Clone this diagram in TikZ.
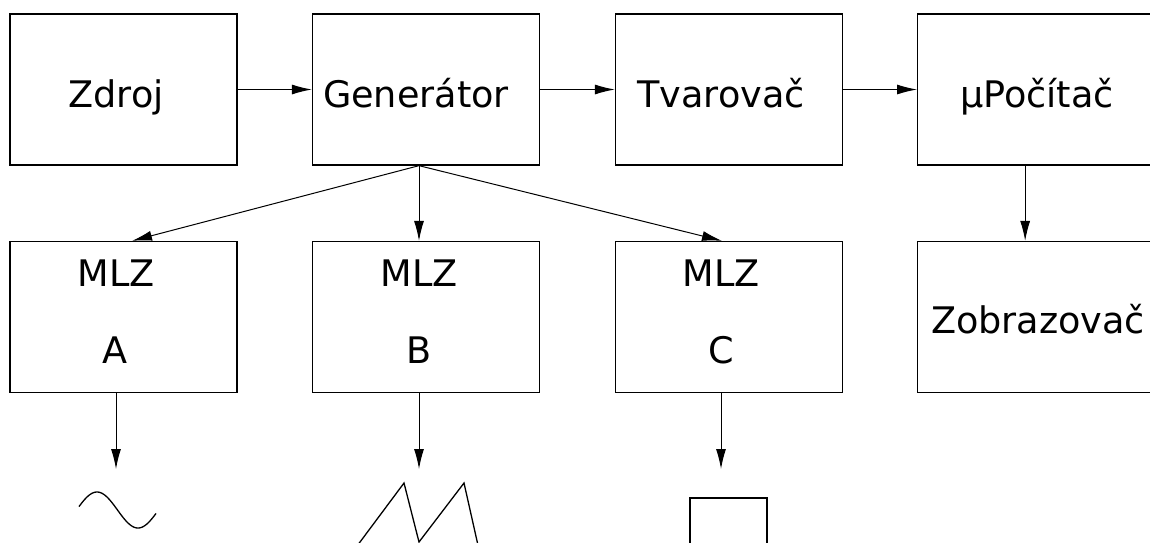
\documentclass[tikz,border=0pt]{standalone}
\usepackage{fontspec}
\setmainfont{DejaVu Sans}
\usetikzlibrary{arrows.meta}
\tikzset{
  blk/.style={draw, line width=1.3pt, minimum width=227pt, minimum height=151pt, inner sep=0pt},
  lbl/.style={anchor=base, inner sep=0pt, font=\fontsize{36.6}{44}\selectfont},
  arr/.style={line width=1pt, -{Latex[length=20pt,width=10pt]}},
  wave/.style={line width=1.3pt}
}
\begin{document}
\begin{tikzpicture}[x=1pt,y=-1pt]
\useasboundingbox (0,0) rectangle (1150,542);
\clip (0,0) rectangle (1150,542);
% boxes
\node[blk] (zdroj) at (123.5,89.5) {};
\node[blk] (gen) at (426,89.5) {};
\node[blk] (tvar) at (729,89.5) {};
\node[blk, minimum width=243pt, anchor=west] (mu) at (917,89.5) {};
\node[blk] (a) at (123.5,317) {};
\node[blk] (b) at (426,317) {};
\node[blk] (c) at (729,317) {};
\node[blk, minimum width=243pt, anchor=west] (zob) at (917,317) {};
% texts
\node[lbl] (tz) at (116,107) {Zdroj};
\node[lbl] (tg) at (416,107) {Generátor};
\node[lbl] (tt) at (721,107) {Tvarovač};
\node[lbl] (tm) at (1037,107) {µPočítač};
\node[lbl] (tzb) at (1038,333) {Zobrazovač};
\node[lbl] (ma) at (116,286) {MLZ};
\node[lbl] (mb) at (419,286) {MLZ};
\node[lbl] (mc) at (721,286) {MLZ};
\node[lbl] (la) at (115,363) {A};
\node[lbl] (lb) at (419,363) {B};
\node[lbl] (lc) at (721,363) {C};
% top row arrows
\draw[arr] (zdroj.east) -- (gen.west);
\draw[arr] (gen.east) -- (tvar.west);
\draw[arr] (tvar.east) -- (mu.west);
\draw[arr] ([xshift=-14pt]mu.south) -- ([xshift=-14pt]zob.north);
% fan from generator
\draw[arr] ([xshift=-7pt]gen.south) -- ([xshift=8.5pt]a.north);
\draw[arr] ([xshift=-7pt]gen.south) -- ([xshift=-7pt]b.north);
\draw[arr] ([xshift=-7pt]gen.south) -- ([xshift=-7pt]c.north);
% output arrows
\coordinate (oa) at (116,469);
\coordinate (ob) at (419,469);
\coordinate (oc) at (721,469);
\draw[arr] (a.south -| oa) -- (oa);
\draw[arr] (b.south -| ob) -- (ob);
\draw[arr] (c.south -| oc) -- (oc);
% waveforms
\draw[wave, domain=-18:59, samples=80, smooth] plot ({97+\x}, {510-18*cos(4.3902*\x)});
\draw[wave, line join=miter] (346.6,560) -- (404,483) -- (419,542) -- (464,483) -- (481.3,560);
\draw[wave] (690,560) -- (690,498) -- (767,498) -- (767,560);
\end{tikzpicture}
\end{document}
